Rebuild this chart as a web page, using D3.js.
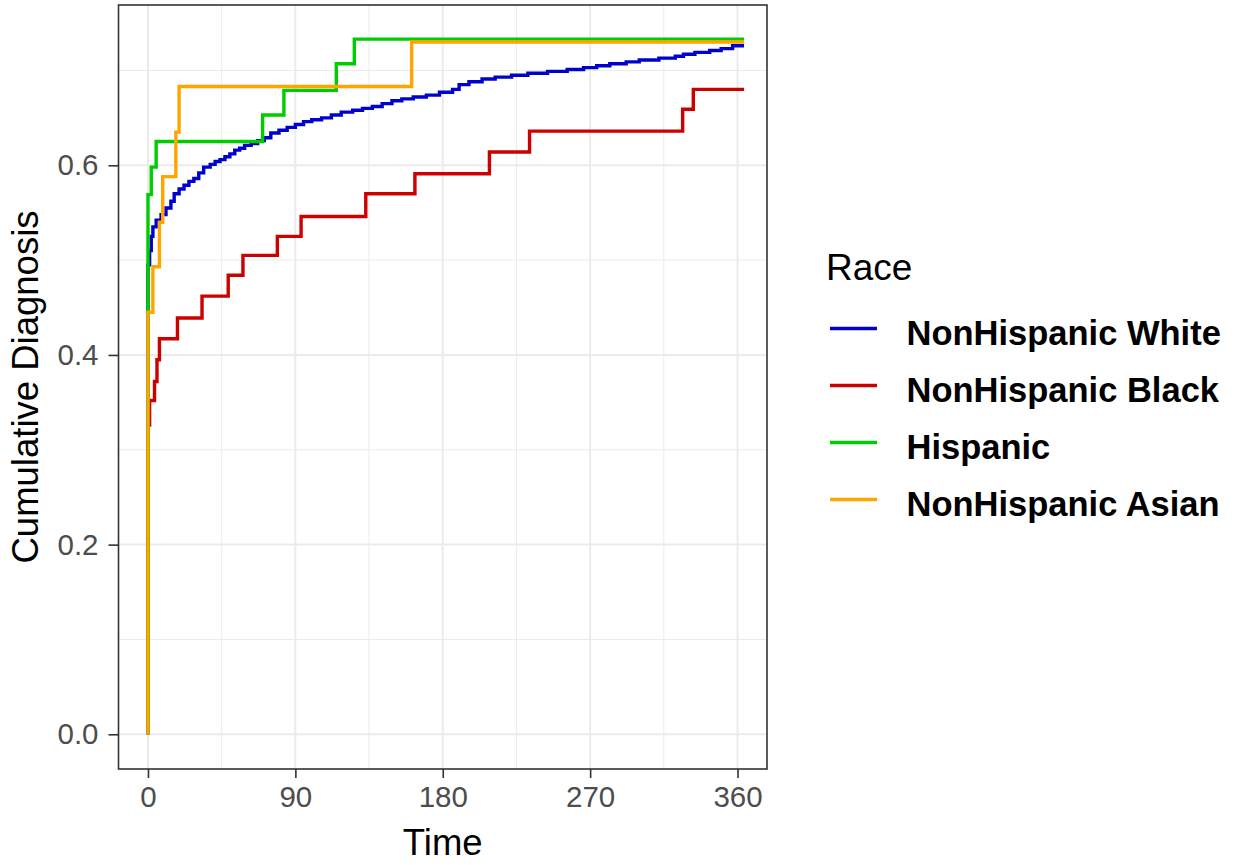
<!DOCTYPE html>
<html>
<head>
<meta charset="utf-8">
<script src="https://cdn.jsdelivr.net/npm/d3@7"></script>
<style>
  html, body { margin: 0; padding: 0; background: #fff; }
  svg { display: block; }
  text { font-family: "Liberation Sans", Arial, sans-serif; }
</style>
</head>
<body>
<svg id="chart" width="1236" height="865"></svg>
<script>
// ---- data ----
const seriesNames = ["NonHispanic White", "NonHispanic Black", "Hispanic", "NonHispanic Asian"];
const seriesColors = ["#0000CD", "#CD0000", "#00CD00", "#FFA500"];

const whiteSteps = [[0,0],[0,0.495],[1,0.51],[2,0.525],[3,0.535],[5,0.542],[8,0.548],[11,0.555],[14,0.562],[16,0.570],[19,0.575],[22,0.579],[25,0.583],[28,0.586],[31,0.592],[34,0.598],[38,0.601],[41,0.604],[44,0.606],[47,0.609],[50,0.612],[53,0.616],[56,0.618],[59,0.621],[63,0.623],[67,0.626],[71,0.629],[75,0.634],[80,0.637],[85,0.640],[90,0.643],[95,0.646],[100,0.648],[106,0.650],[112,0.653],[118,0.656],[125,0.658],[131,0.660],[137,0.662],[143,0.665],[149,0.668],[155,0.670],[162,0.672],[170,0.674],[178,0.677],[186,0.680],[190,0.685],[196,0.688],[204,0.691],[212,0.693],[222,0.695],[232,0.697],[244,0.699],[256,0.701],[266,0.703],[274,0.705],[282,0.707],[292,0.709],[300,0.711],[312,0.713],[322,0.715],[327,0.717],[334,0.719],[343,0.721],[350,0.723],[357,0.726],[364,0.726]];
const blackSteps = [[0,0],[0,0.326],[1,0.352],[4,0.372],[5.5,0.395],[7,0.417],[18,0.439],[33,0.462],[49,0.484],[58,0.505],[79,0.525],[93.5,0.546],[133,0.570],[163,0.591],[208.5,0.614],[233,0.636],[326.5,0.659],[333,0.680],[364,0.680]];
const hispanicSteps = [[0,0],[0,0.569],[2,0.598],[5,0.625],[70,0.653],[83,0.679],[115,0.707],[126,0.733],[364,0.733]];
const asianSteps = [[0,0],[0,0.445],[3,0.493],[7,0.540],[9,0.588],[17,0.635],[19,0.683],[161,0.730],[364,0.730]];

const xTicks = [0, 90, 180, 270, 360];
const xMinor = [45, 135, 225, 315];
const yTicks = [0, 0.2, 0.4, 0.6];
const yMinor = [0.1, 0.3, 0.5, 0.7];

const xTitle = "Time";
const yTitle = "Cumulative Diagnosis";
const legendTitle = "Race";

// ---- layout ----
const svg = d3.select("#chart");
const panel = { left: 118.5, right: 767, top: 5, bottom: 769 };

const x = d3.scaleLinear().domain([-18, 378]).range([panel.left, panel.right]);
const y = d3.scaleLinear().domain([-0.0366, 0.769]).range([panel.bottom, panel.top]);

const g = svg.append("g");

// minor grid
g.selectAll(".xminor").data(xMinor).enter().append("line")
  .attr("x1", d => x(d)).attr("x2", d => x(d))
  .attr("y1", panel.top).attr("y2", panel.bottom)
  .attr("stroke", "#EBEBEB").attr("stroke-width", 1);
g.selectAll(".yminor").data(yMinor).enter().append("line")
  .attr("y1", d => y(d)).attr("y2", d => y(d))
  .attr("x1", panel.left).attr("x2", panel.right)
  .attr("stroke", "#EBEBEB").attr("stroke-width", 1);
// major grid
g.selectAll(".xmajor").data(xTicks).enter().append("line")
  .attr("x1", d => x(d)).attr("x2", d => x(d))
  .attr("y1", panel.top).attr("y2", panel.bottom)
  .attr("stroke", "#EBEBEB").attr("stroke-width", 2);
g.selectAll(".ymajor").data(yTicks).enter().append("line")
  .attr("y1", d => y(d)).attr("y2", d => y(d))
  .attr("x1", panel.left).attr("x2", panel.right)
  .attr("stroke", "#EBEBEB").attr("stroke-width", 2);

// series
const allSteps = [whiteSteps, blackSteps, hispanicSteps, asianSteps];
const line = d3.line().x(d => x(d[0])).y(d => y(d[1])).curve(d3.curveStepAfter);
allSteps.forEach((s, i) => {
  g.append("path").datum(s)
    .attr("d", line)
    .attr("fill", "none")
    .attr("stroke", seriesColors[i])
    .attr("stroke-width", 3.4)
    .attr("stroke-linejoin", "miter")
    .attr("stroke-linecap", "butt");
});

// panel border
g.append("rect")
  .attr("x", panel.left).attr("y", panel.top)
  .attr("width", panel.right - panel.left).attr("height", panel.bottom - panel.top)
  .attr("fill", "none").attr("stroke", "#333333").attr("stroke-width", 1.6);

// axes
const xAxis = d3.axisBottom(x).tickValues(xTicks).tickSize(9).tickPadding(8).tickFormat(d3.format("d"));
const xg = svg.append("g").attr("transform", `translate(0,${panel.bottom})`).call(xAxis);
xg.select(".domain").remove();
xg.selectAll(".tick line").attr("stroke", "#333333").attr("stroke-width", 1.6);
xg.selectAll(".tick text").attr("fill", "#4D4D4D").attr("font-size", 29.5)
  .attr("font-family", "Liberation Sans, Arial, sans-serif");

const yAxis = d3.axisLeft(y).tickValues(yTicks).tickSize(10).tickPadding(10).tickFormat(d3.format(".1f"));
const yg = svg.append("g").attr("transform", `translate(${panel.left},0)`).call(yAxis);
yg.select(".domain").remove();
yg.selectAll(".tick line").attr("stroke", "#333333").attr("stroke-width", 1.6);
yg.selectAll(".tick text").attr("fill", "#4D4D4D").attr("font-size", 29.5)
  .attr("font-family", "Liberation Sans, Arial, sans-serif");

// axis titles
svg.append("text").text(xTitle)
  .attr("x", (panel.left + panel.right) / 2).attr("y", 855)
  .attr("text-anchor", "middle").attr("font-size", 36.5).attr("fill", "#000");
svg.append("text").text(yTitle)
  .attr("transform", `translate(38,${(panel.top + panel.bottom) / 2}) rotate(-90)`)
  .attr("text-anchor", "middle").attr("font-size", 36.5).attr("fill", "#000");

// legend
svg.append("text").text(legendTitle)
  .attr("x", 826).attr("y", 280).attr("font-size", 37).attr("fill", "#000");
const legY0 = 328.5, legStep = 57;
seriesNames.forEach((name, i) => {
  const ly = legY0 + i * legStep;
  svg.append("line")
    .attr("x1", 830).attr("x2", 877).attr("y1", ly).attr("y2", ly)
    .attr("stroke", seriesColors[i]).attr("stroke-width", 3.6);
  svg.append("text").text(name)
    .attr("x", 906.5).attr("y", ly + 16.5)
    .attr("font-size", 34.5).attr("font-weight", "bold").attr("fill", "#000");
});
</script>
</body>
</html>
